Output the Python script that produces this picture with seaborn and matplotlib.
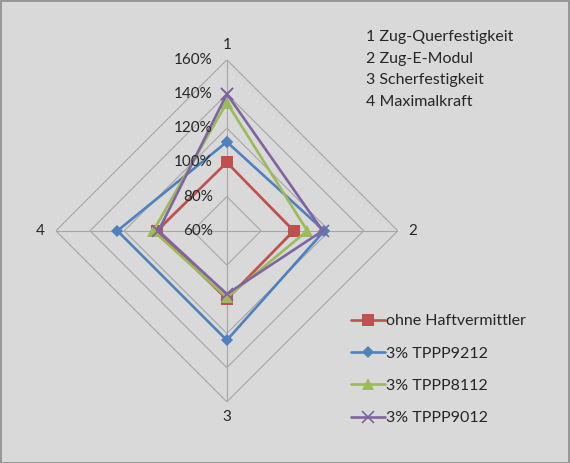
import numpy as np
import pandas as pd
import matplotlib
matplotlib.use("Agg")
import matplotlib.pyplot as plt
from matplotlib.patches import Rectangle
import seaborn as sns

# Radar chart data (values in %)
axes_labels = ["1", "2", "3", "4"]
series_names = ["ohne Haftvermittler", "3% TPPP9212", "3% TPPP8112", "3% TPPP9012"]
ohne = [100, 99, 100, 101]
tppp9212 = [112, 117, 124, 124]
tppp8112 = [135, 107, 99, 103]
tppp9012 = [140, 116, 97, 100]
ring_values = [60, 80, 100, 120, 140, 160]
legend_text = ["1 Zug-Querfestigkeit", "2 Zug-E-Modul", "3 Scherfestigkeit", "4 Maximalkraft"]

colors = ["#C0504D", "#4F81BD", "#9BBB59", "#8064A2"]
markers = ["s", "D", "^", "X"]
# seaborn won't mix filled and line markers, so the x is swapped in afterwards
final_markers = ["s", "D", "^", "x"]
msizes = [8, 6, 8.5, 9]
medges = [0, 0, 0, 1.2]

sns.set_theme(style="white")
plt.rcParams["font.family"] = ["Lato", "DejaVu Sans"]

angles = np.linspace(0, 2 * np.pi, len(axes_labels), endpoint=False)
angles_closed = np.append(angles, 2 * np.pi)

rows = []
for name, vals in zip(series_names, [ohne, tppp9212, tppp8112, tppp9012]):
    closed = list(vals) + [vals[0]]
    for th, v in zip(angles_closed, closed):
        rows.append({"theta": th, "value": v, "series": name})
df = pd.DataFrame(rows)

fig = plt.figure(figsize=(5.70, 4.63), dpi=100)
fig.patch.set_facecolor("#D9D9D9")
fig.patches.append(Rectangle((0.001, 0.001), 0.997, 0.997, transform=fig.transFigure,
                             fill=False, edgecolor="#8C8C8C", lw=1.2))

ax = fig.add_axes([0.098, 0.132, 0.6, 0.739], projection="polar")
ax.set_facecolor("none")
ax.set_theta_zero_location("N")
ax.set_theta_direction(-1)
ax.set_ylim(60, 160)
ax.grid(False)
ax.spines["polar"].set_visible(False)

# diamond grid and spokes
for r in ring_values[1:]:
    ax.plot(angles_closed, [r] * len(angles_closed), color="#A6A6A6", lw=0.8, zorder=1)
for th in angles:
    ax.plot([th, th], [60, 160], color="#A6A6A6", lw=0.8, zorder=1)

sns.lineplot(data=df, x="theta", y="value", hue="series", style="series",
             palette=colors, markers=markers, dashes=False, sort=False,
             estimator=None, lw=1.9, ax=ax, zorder=3, legend=False)

data_lines = ax.get_lines()[-4:]
for line, mk, ms, mew, c in zip(data_lines, final_markers, msizes, medges, colors):
    line.set_marker(mk)
    line.set_markersize(ms)
    line.set_markeredgewidth(mew)
    line.set_markeredgecolor(c)
    line.set_markerfacecolor(c)

ax.set_xticks(angles)
ax.set_xticklabels(axes_labels, fontsize=11, color="#262626")
ax.tick_params(axis="x", pad=-2)
ax.set_yticks([])
ax.set_xlabel("")
ax.set_ylabel("")

for r in ring_values:
    ax.annotate(f"{r}%", xy=(0, r), xytext=(-10, 0), textcoords="offset points",
                ha="right", va="center", fontsize=11, color="#262626")

ax.legend(data_lines, series_names, loc="upper left", bbox_to_anchor=(0.605, 0.335),
          bbox_transform=fig.transFigure, frameon=False, fontsize=11.5,
          labelspacing=1.13, handlelength=2.1, handletextpad=0.05, borderaxespad=0)

for i, t in enumerate(legend_text):
    fig.text(366 / 570, 1 - (37 + i * 21.5) / 463, t, ha="left", va="center",
             fontsize=11.5, color="#262626")

fig.savefig("out.png", dpi=100, facecolor=fig.get_facecolor())
